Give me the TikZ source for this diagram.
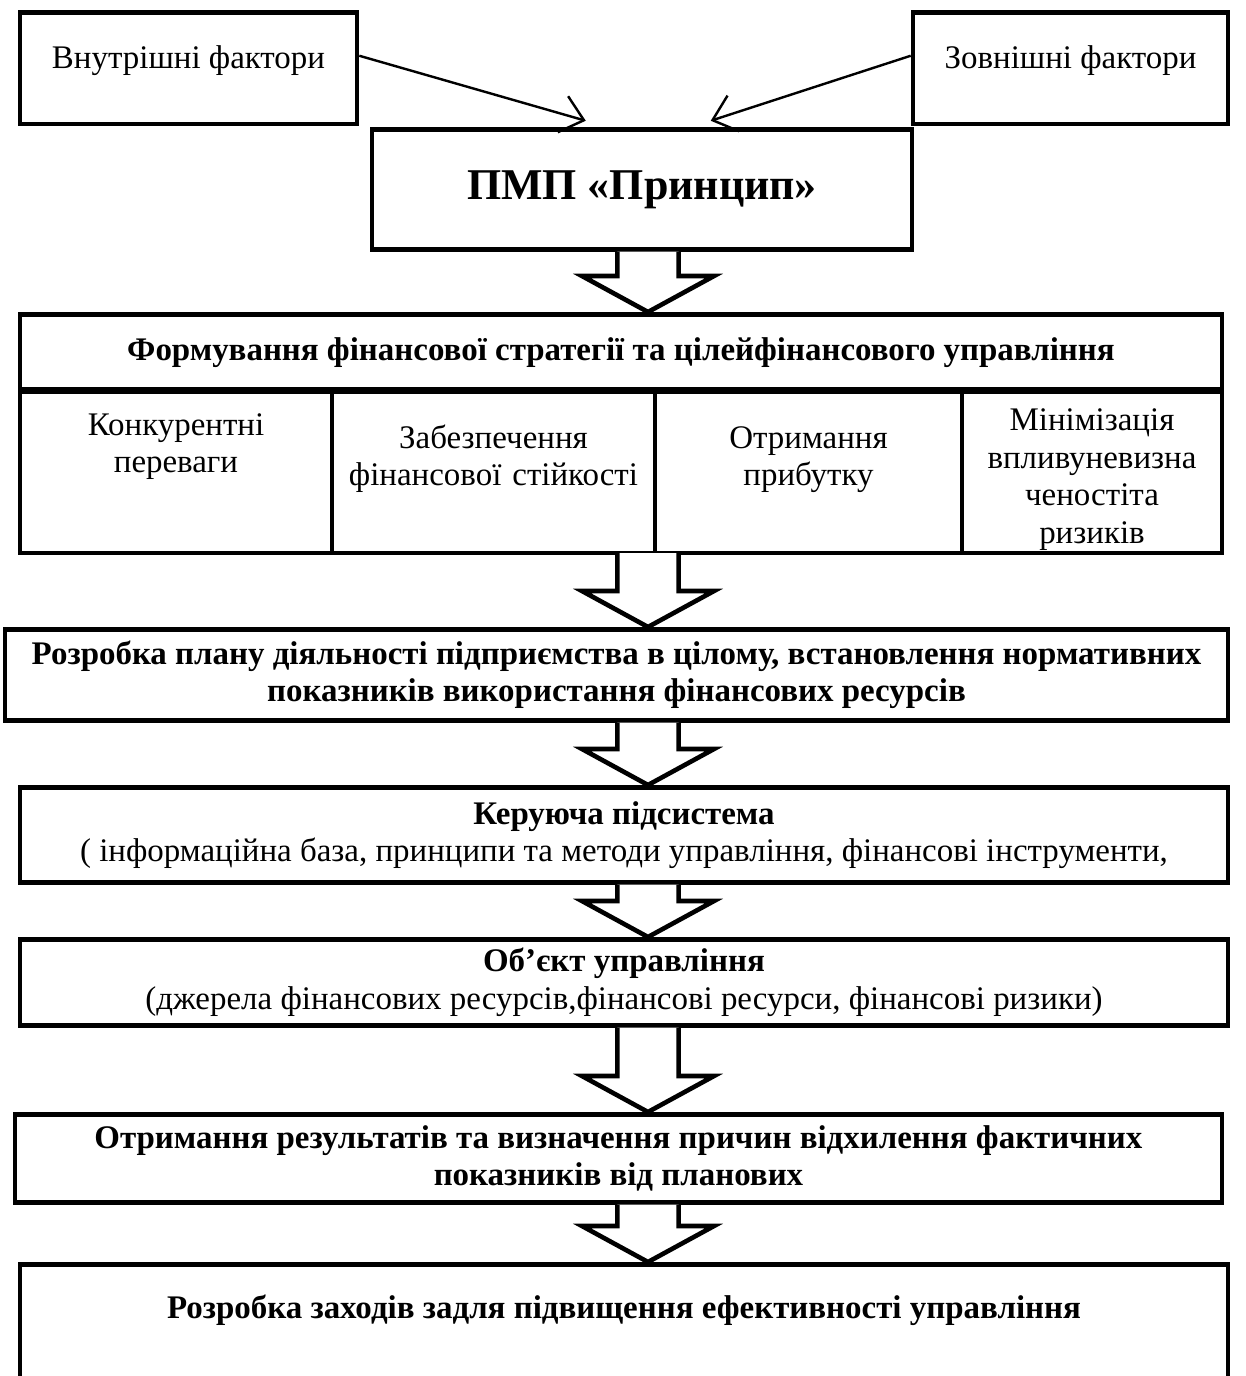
\documentclass[tikz,border=0pt]{standalone}
\usepackage{fontspec}
\setmainfont{Liberation Serif}
\usepackage{tikz}
\usetikzlibrary{calc,positioning,arrows.meta}

\begin{document}
\begin{tikzpicture}[
  box/.style={draw, line width=2.1pt, minimum width=#1, anchor=north, align=center, inner sep=2pt, font=\fontsize{15}{17}\selectfont},
  cell/.style={draw, line width=2.1pt, text width=#1, inner xsep=0pt, inner ysep=0pt, outer sep=0pt, align=center, font=\fontsize{15}{17.2}\selectfont},
  bigarrow/.style={draw, line width=2.1pt, fill=white, line join=miter},
  factor/.style={line width=1.1pt, -{Straight Barb[length=3.5mm,width=6mm]}}
]
  \useasboundingbox (0,0) rectangle (19.936,-22.016);

  \node[box=5.392cm, text height=0.9cm, text depth=0.89cm, inner ysep=0pt] (intf) at (3.016,-0.16) {Внутрішні фактори};
  \node[box=5.04cm, text height=0.9cm, text depth=0.89cm, inner ysep=0pt] (extf) at (17.128,-0.16) {Зовнішні фактори};
  \node[box=8.64cm, minimum height=1.92cm, font=\fontsize{20}{24}\selectfont\bfseries] (pmp) at (10.272,-2.032) {ПМП «Принцип»};

  \node[box=19.232cm, minimum height=1.232cm, font=\fontsize{15}{17}\selectfont\bfseries] (head) at (9.936,-4.992) {Формування фінансової стратегії та цілейфінансового управління};
  \node[cell=4.992cm, text height=0.736cm, text depth=1.888cm, anchor=north] (cella) at (2.816,-6.224) {Конкурентні\\переваги};
  \node[cell=5.168cm, text height=0.944cm, text depth=1.68cm, right=0pt of cella] (cellb) {Забезпечення\\фінансової стійкості};
  \node[cell=4.912cm, text height=0.944cm, text depth=1.68cm, right=0pt of cellb] (cellc) {Отримання\\прибутку};
  \node[cell=4.16cm, text height=0.66cm, text depth=1.964cm, right=0pt of cellc] (celld) {Мінімізація\\впливуневизна\\ченостіта\\ризиків};

  \node[box=19.568cm, minimum height=1.456cm, font=\fontsize{15}{17}\selectfont\bfseries] (plan) at (9.864,-10.032) {Розробка плану діяльності підприємства в цілому, встановлення нормативних\\показників використання фінансових ресурсів};
  \node[box=19.328cm, minimum height=1.52cm] (keruy) at (9.984,-12.56) {\textbf{Керуюча підсистема}\\( інформаційна база, принципи та методи управління, фінансові інструменти,};
  \node[box=19.328cm, minimum height=1.376cm] (obj) at (9.984,-14.992) {\textbf{Об’єкт управління}\\(джерела фінансових ресурсів,фінансові ресурси, фінансові ризики)};
  \node[box=19.312cm, minimum height=1.408cm, font=\fontsize{15}{17}\selectfont\bfseries] (result) at (9.896,-17.792) {Отримання результатів та визначення причин відхилення фактичних\\показників від планових};
  \node[box=19.328cm, text height=0.864cm, text depth=1.984cm, inner ysep=0pt, font=\fontsize{15}{17}\selectfont\bfseries] (final) at (9.984,-20.192) {Розробка заходів задля підвищення ефективності управління};

  \coordinate (axis) at (10.368,0);
  \coordinate (inl) at ($(pmp.north)+(-0.9,0.1)$);
  \coordinate (inr) at ($(pmp.north)+(1.1,0.1)$);

  \draw[factor] ([yshift=0.2cm]intf.east) -- (inl);
  \draw[factor] ([yshift=0.2cm]extf.west) -- (inr);

  \foreach \a/\b in {pmp/head, cellb/plan, plan/keruy, keruy/obj, obj/result, result/final}
    \draw[bigarrow] ($(\a.south -| axis)+(-0.49,0)$) -- ($(\b.north -| axis)+(-0.49,0.576)$) -- ($(\b.north -| axis)+(-1.056,0.576)$)
      -- (\b.north -| axis) -- ($(\b.north -| axis)+(1.056,0.576)$) -- ($(\b.north -| axis)+(0.49,0.576)$) -- ($(\a.south -| axis)+(0.49,0)$);
\end{tikzpicture}
\end{document}
